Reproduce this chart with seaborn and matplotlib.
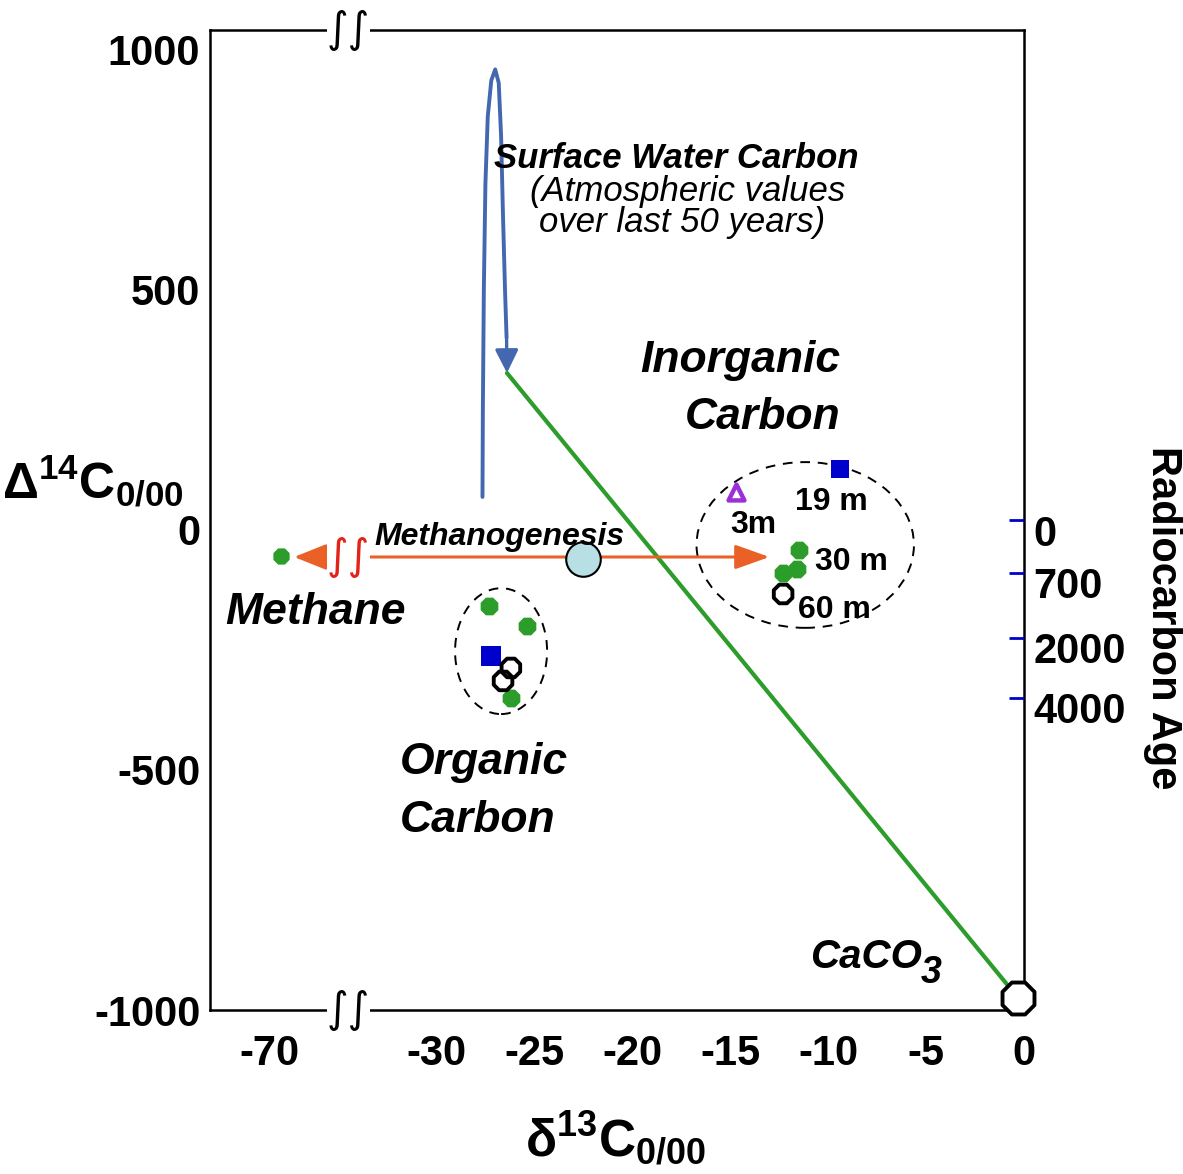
import numpy as np
import matplotlib
matplotlib.use("Agg")
import matplotlib.pyplot as plt
import seaborn as sns
from matplotlib.patches import Ellipse
from matplotlib.transforms import ScaledTranslation, blended_transform_factory

# ---------------- data ----------------
x_ticks = [-70, -30, -25, -20, -15, -10, -5, 0]
x_ticklabels = ["-70", "-30", "-25", "-20", "-15", "-10", "-5", "0"]
y_ticks = [1000, 500, 0, -500, -1000]
y_ticklabels = ["1000", "500", "0", "-500", "-1000"]
age_ticks = [20, -90, -225, -350]          # Delta14C positions of the age marks
age_labels = ["0", "700", "2000", "4000"]

# surface-water (atmospheric bomb) loop
surf_x = [-27.65, -27.63, -27.58, -27.5, -27.38, -27.2, -27.0, -26.82, -26.7, -26.6, -26.5, -26.42]
surf_y = [68, 250, 500, 720, 860, 935, 958, 930, 820, 650, 500, 400]
surf_tip_x, surf_tip_y = -26.4, 326

# mixing line surface water -> CaCO3
mix_x = [-26.4, -0.3]
mix_y = [326, -975]

# methanogenesis
methane_x, methane_y = [-65.0], [-55.0]
methano_y = -57.0
methano_left_tip = -59.0
methano_start = -33.7
methano_right_tip = -13.0
mixpt_x, mixpt_y = [-22.5], [-62.0]

# organic carbon cluster
org_green_x, org_green_y = [-27.3, -25.4, -26.2], [-159, -201, -350]
org_sq_x, org_sq_y = [-27.2], [-263]
org_ring_x, org_ring_y = [-26.2, -26.6], [-288, -315]
org_ell = (-26.7, -253, 4.7, 262)        # centre x, centre y, width, height

# inorganic carbon cluster
inorg_green_x, inorg_green_y = [-11.5, -11.6, -12.3], [-42, -82, -90]
inorg_sq_x, inorg_sq_y = [-9.4], [126]
inorg_tri_x, inorg_tri_y = [-14.7], [78]
inorg_ring_x, inorg_ring_y = [-12.3], [-134]
inorg_ell = (-11.17, -32, 11.1, 345)

caco3_x, caco3_y = [-0.3], [-975]

# ---------------- style ----------------
sns.set_style("white")
plt.rcParams["font.family"] = ["Liberation Sans", "DejaVu Sans"]
plt.rcParams["font.weight"] = "bold"
plt.rcParams["text.color"] = "black"
plt.rcParams["axes.labelcolor"] = "black"
plt.rcParams["xtick.color"] = "black"
plt.rcParams["ytick.color"] = "black"
plt.rcParams["mathtext.fontset"] = "custom"
plt.rcParams["mathtext.rm"] = "Liberation Sans:bold"
plt.rcParams["mathtext.bf"] = "Liberation Sans:bold"
plt.rcParams["mathtext.it"] = "Liberation Sans:italic:bold"

GREEN = "#2c9c2a"
BLUE_LINE = "#4468b0"
ORANGE = "#ea6128"
RED = "#e2231a"
SQ_BLUE = "#0000cc"
PURPLE = "#9b30d9"
LIGHTBLUE = "#b7dfe4"

W, H = 1183, 1174
fig = plt.figure(figsize=(W / 100, H / 100), dpi=100)
ax = fig.add_axes([210 / W, 1 - 1010 / H, (1024 - 210) / W, (1010 - 30) / H])

# broken x axis: values below B are compressed
B, K = -34.5, 0.113


def fwd(x):
    x = np.asarray(x, dtype=float)
    return np.where(x >= B, x, B + (x - B) * K)


def inv(t):
    t = np.asarray(t, dtype=float)
    return np.where(t >= B, t, B + (t - B) / K)


ax.set_xscale("function", functions=(fwd, inv))
ax.set_xlim(-97, 0)
ax.set_ylim(-1000, 1040)

ax.set_xticks(x_ticks)
ax.set_xticklabels(x_ticklabels)
ax.set_yticks(y_ticks)
ax.set_yticklabels(y_ticklabels)
ax.tick_params(axis="x", length=0, labelsize=30, pad=17, labelcolor="black")
ax.tick_params(axis="y", length=0, labelsize=30, pad=7, labelcolor="black")
for s in ax.spines.values():
    s.set_visible(True)
    s.set_color("black")
    s.set_linewidth(1.8)
ax.grid(False)

# dashed cluster ellipses
for (cx, cy, w, h) in (org_ell, inorg_ell):
    ax.add_patch(Ellipse((cx, cy), w, h, fill=False, ec="black", lw=1.4,
                         ls=(0, (5, 4)), zorder=2))

# surface water loop + arrow
sns.lineplot(x=surf_x, y=surf_y, sort=False, estimator=None, color=BLUE_LINE,
             lw=2.8, ax=ax, zorder=3)
ax.annotate("", xy=(surf_tip_x, surf_tip_y), xytext=(surf_x[-1], surf_y[-1]),
            arrowprops=dict(arrowstyle="-|>,head_length=1.4,head_width=0.7",
                            color=BLUE_LINE, lw=2.4, shrinkA=0, shrinkB=0), zorder=3)

# mixing line
sns.lineplot(x=mix_x, y=mix_y, sort=False, estimator=None, color=GREEN, lw=3,
             ax=ax, zorder=3)

# methanogenesis arrows
ax.annotate("", xy=(methano_right_tip, methano_y), xytext=(methano_start, methano_y),
            arrowprops=dict(arrowstyle="-|>,head_length=2.1,head_width=0.75",
                            color=ORANGE, lw=2.2, shrinkA=0, shrinkB=0), zorder=3)
ax.annotate("", xy=(methano_left_tip, methano_y), xytext=(B, methano_y),
            arrowprops=dict(arrowstyle="-|>,head_length=2.0,head_width=0.8",
                            color=ORANGE, lw=2.2, shrinkA=0, shrinkB=0), zorder=3)

# break marks
ax.text(B, methano_y, "\u222b\u222b", color=RED, fontsize=30, fontweight="normal",
        family="DejaVu Sans", ha="center", va="center", zorder=4,
        bbox=dict(fc="white", ec="none", pad=0))
bt = blended_transform_factory(ax.transData, ax.transAxes)
for yy in (1.0, 0.0):
    ax.text(B, yy, "\u222b\u222b", transform=bt, color="black", fontsize=30,
            fontweight="normal", family="DejaVu Sans", ha="center", va="center",
            zorder=4, clip_on=False, bbox=dict(fc="white", ec="none", pad=0))

# points
sns.scatterplot(x=methane_x, y=methane_y, marker="8", s=160, color=GREEN,
                edgecolor=GREEN, linewidth=0, ax=ax, zorder=5)
sns.scatterplot(x=mixpt_x, y=mixpt_y, marker="o", s=620, color=LIGHTBLUE,
                edgecolor="black", linewidth=1.5, ax=ax, zorder=5)
sns.scatterplot(x=org_green_x + inorg_green_x, y=org_green_y + inorg_green_y,
                marker="8", s=190, color=GREEN, edgecolor=GREEN, linewidth=0,
                ax=ax, zorder=5)
sns.scatterplot(x=org_sq_x, y=org_sq_y, marker="s", s=190, color=SQ_BLUE,
                edgecolor=SQ_BLUE, linewidth=0, ax=ax, zorder=5)
sns.scatterplot(x=inorg_sq_x, y=inorg_sq_y, marker="s", s=150, color=SQ_BLUE,
                edgecolor=SQ_BLUE, linewidth=0, ax=ax, zorder=5)
sns.scatterplot(x=inorg_tri_x, y=inorg_tri_y, marker="^", s=130, facecolor="white",
                edgecolor=PURPLE, linewidth=3.2, ax=ax, zorder=5)
sns.scatterplot(x=org_ring_x + inorg_ring_x, y=org_ring_y + inorg_ring_y, marker="8",
                s=210, facecolor="none", edgecolor="black", linewidth=2.8, ax=ax, zorder=5)
sns.scatterplot(x=caco3_x, y=caco3_y, marker="8", s=620, facecolor="white",
                edgecolor="black", linewidth=2.8, ax=ax, zorder=6, clip_on=False)

# right radiocarbon-age axis
ax2 = ax.twinx()
ax2.set_ylim(ax.get_ylim())
ax2.set_yticks(age_ticks)
ax2.set_yticklabels(age_labels)
ax2.tick_params(axis="y", direction="in", length=11, width=2, color=SQ_BLUE,
                labelsize=30, pad=7, labelcolor="black")
for s in ax2.spines.values():
    s.set_visible(False)
for lab in ax2.get_yticklabels():
    lab.set_transform(lab.get_transform() + ScaledTranslation(0, -0.10, fig.dpi_scale_trans))
ax2.grid(False)


def ftext(px, py, s, **kw):
    fig.text(px / W, 1 - py / H, s, **kw)


# annotations
ftext(676, 168, "Surface Water Carbon", fontsize=25, style="italic", ha="center", va="baseline")
ftext(688, 201, "(Atmospheric values", fontsize=25, style="italic", fontweight="normal",
      ha="center", va="baseline")
ftext(682, 232, "over last 50 years)", fontsize=25, style="italic", fontweight="normal",
      ha="center", va="baseline")
ftext(840, 372, "Inorganic", fontsize=32, style="italic", ha="right", va="baseline")
ftext(840, 429, "Carbon", fontsize=32, style="italic", ha="right", va="baseline")
ftext(400, 774, "Organic", fontsize=32, style="italic", ha="left", va="baseline")
ftext(400, 832, "Carbon", fontsize=32, style="italic", ha="left", va="baseline")
ftext(225, 624, "Methane", fontsize=32, style="italic", ha="left", va="baseline")
ftext(374, 545, "Methanogenesis", fontsize=23, style="italic", ha="left", va="baseline")
ftext(810, 968, "CaCO", fontsize=29, style="italic", ha="left", va="baseline")
ftext(921, 983, "3", fontsize=27, style="italic", ha="left", va="baseline")
ftext(795, 510, "19 m", fontsize=23, ha="left", va="baseline")
ftext(730, 533, "3m", fontsize=23, ha="left", va="baseline")
ftext(815, 570, "30 m", fontsize=23, ha="left", va="baseline")
ftext(798, 618, "60 m", fontsize=23, ha="left", va="baseline")

# axis titles
ftext(2, 498, r"$\mathrm{\Delta^{14}C_{0/00}}$", fontsize=36, ha="left", va="baseline")
ftext(525, 1157, r"$\mathrm{\delta^{13}C_{0/00}}$", fontsize=37, ha="left", va="baseline")
ftext(1163, 618, "Radiocarbon Age", fontsize=30, rotation=-90, ha="center", va="center")

fig.savefig("out.png", dpi=100)
